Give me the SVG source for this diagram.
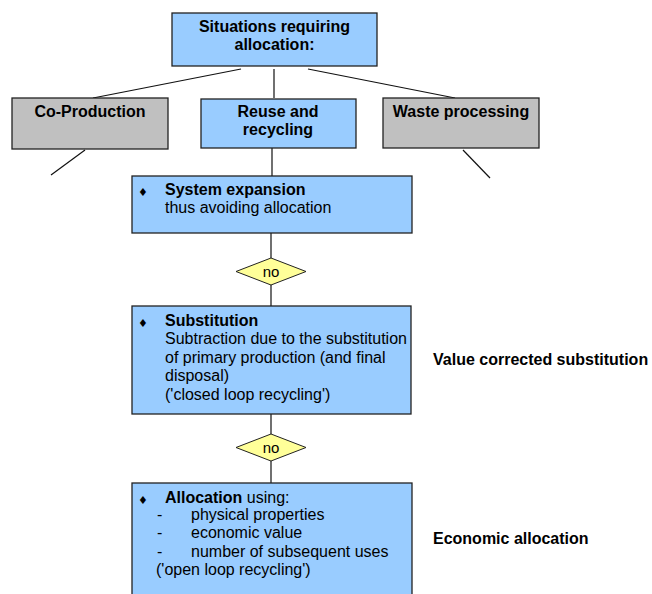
<svg xmlns="http://www.w3.org/2000/svg" width="652" height="594" viewBox="0 0 652 594">
<style>
.box{stroke:#222;stroke-width:1.3}
.blue{fill:#99CCFF}
.gray{fill:#C0C0C0}
.dia{fill:#FFFF99;stroke:#222;stroke-width:1}
.t{font-family:"Liberation Sans",Arial,sans-serif;font-size:16px;fill:#000}
.b{font-weight:bold}
.c{text-anchor:middle}
.bul{font-family:"DejaVu Sans",sans-serif;font-size:11px;fill:#000}
.no{font-family:"Liberation Sans",Arial,sans-serif;font-size:15px;fill:#000;text-anchor:middle}
.ln{stroke:#111;stroke-width:1.2;fill:none}
</style>
<rect width="652" height="594" fill="#fff"/>
<g id="connectors">
<line class="ln" x1="241" y1="69" x2="93" y2="98"/>
<line class="ln" x1="274" y1="69" x2="274" y2="98"/>
<line class="ln" x1="308" y1="69" x2="455" y2="98"/>
<line class="ln" x1="85" y1="150" x2="51" y2="175"/>
<line class="ln" x1="463" y1="150" x2="490" y2="178"/>
<line class="ln" x1="272" y1="148" x2="272" y2="176"/>
<line class="ln" x1="271" y1="233" x2="271" y2="258"/>
<line class="ln" x1="271" y1="285" x2="271" y2="306"/>
<line class="ln" x1="271" y1="414" x2="271" y2="434"/>
<line class="ln" x1="271" y1="461" x2="271" y2="483"/>
</g>
<g id="top">
<rect class="box blue" x="172" y="13" width="205" height="53"/>
<text class="t b c" x="274.5" y="32">Situations requiring</text>
<text class="t b c" x="274.5" y="50">allocation:</text>
</g>
<g id="coproduction">
<rect class="box gray" x="12" y="98" width="156" height="51"/>
<text class="t b c" x="90" y="117">Co-Production</text>
</g>
<g id="reuse">
<rect class="box blue" x="201" y="99" width="155" height="49"/>
<text class="t b c" x="278" y="117">Reuse and</text>
<text class="t b c" x="278" y="135">recycling</text>
</g>
<g id="waste">
<rect class="box gray" x="383" y="98" width="156" height="50"/>
<text class="t b c" x="461" y="117">Waste processing</text>
</g>
<g id="system-expansion">
<rect class="box blue" x="132" y="176" width="280" height="57"/>
<text class="bul" x="138" y="196">♦</text>
<text class="t b" x="165" y="195">System expansion</text>
<text class="t" x="165" y="213">thus avoiding allocation</text>
</g>
<g id="no1">
<polygon class="dia" points="236,271.5 271,258 306,271.5 271,285"/>
<text class="no" x="271" y="277">no</text>
</g>
<g id="substitution">
<rect class="box blue" x="132" y="306" width="279" height="108"/>
<text class="bul" x="138" y="327">♦</text>
<text class="t b" x="165" y="326">Substitution</text>
<text class="t" x="165" y="344">Subtraction due to the substitution</text>
<text class="t" x="165" y="362.5">of primary production (and final</text>
<text class="t" x="165" y="381">disposal)</text>
<text class="t" x="165" y="400">('closed loop recycling')</text>
</g>
<g id="no2">
<polygon class="dia" points="236,447.5 271,434 306,447.5 271,461"/>
<text class="no" x="271" y="453">no</text>
</g>
<g id="allocation">
<rect class="box blue" x="132" y="483" width="280" height="120"/>
<text class="bul" x="138" y="504">♦</text>
<text class="t" x="165" y="503"><tspan class="b">Allocation</tspan> using:</text>
<text class="t" x="157" y="519.5">-</text>
<text class="t" x="191" y="519.5">physical properties</text>
<text class="t" x="157" y="538">-</text>
<text class="t" x="191" y="538">economic value</text>
<text class="t" x="157" y="556.5">-</text>
<text class="t" x="191" y="556.5">number of subsequent uses</text>
<text class="t" x="156" y="575">('open loop recycling')</text>
</g>
<g id="labels">
<text class="t b" x="433" y="365">Value corrected substitution</text>
<text class="t b" x="433" y="543.5">Economic allocation</text>
</g>
</svg>
